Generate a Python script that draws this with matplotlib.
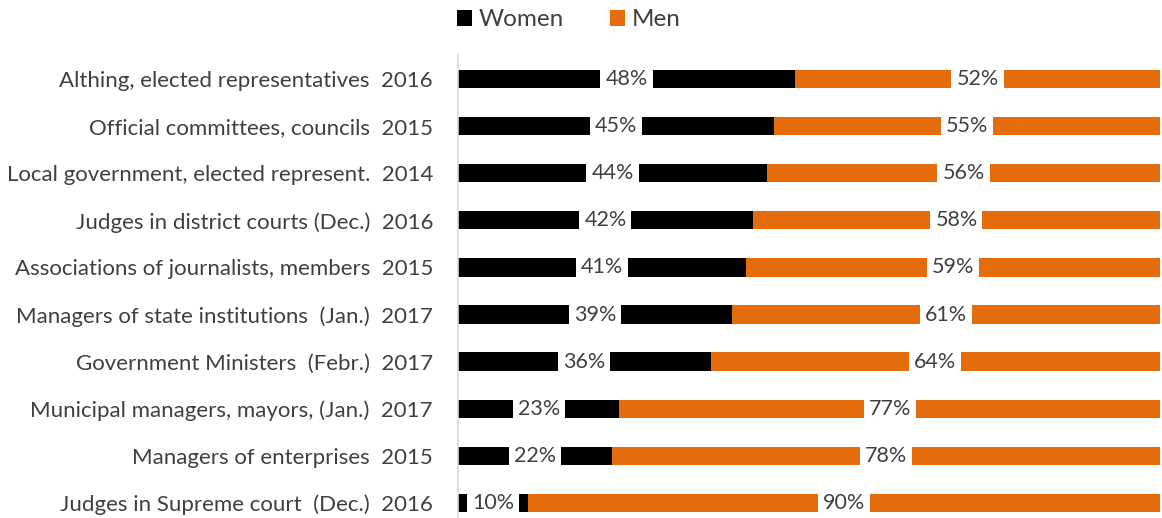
import matplotlib.pyplot as plt

plt.rcParams['font.family'] = ['Lato', 'DejaVu Sans']

categories = ["Althing, elected representatives  2016",
              "Official committees, councils  2015",
              "Local government, elected represent.  2014",
              "Judges in district courts (Dec.)  2016",
              "Associations of journalists, members  2015",
              "Managers of state institutions  (Jan.)  2017",
              "Government Ministers  (Febr.)  2017",
              "Municipal managers, mayors, (Jan.)  2017",
              "Managers of enterprises  2015",
              "Judges in Supreme court  (Dec.)  2016"]
women = [48, 45, 44, 42, 41, 39, 36, 23, 22, 10]
men = [52, 55, 56, 58, 59, 61, 64, 77, 78, 90]

black = '#000000'
orange = '#E46C0A'
txt = '#404040'

fig = plt.figure(figsize=(11.62, 5.18), dpi=100)
ax = fig.add_axes([458/1162, -0.0164, 702/1162, 0.893 + 0.0164])

y = list(range(len(categories)))
b1 = ax.barh(y, women, height=0.39, color=black, label='Women')
b2 = ax.barh(y, men, left=women, height=0.39, color=orange, label='Men')

for bars in (b1, b2):
    for r in bars:
        cx = r.get_x() + r.get_width() / 2
        cy = r.get_y() + r.get_height() / 2
        ax.text(cx, cy, f"{int(round(r.get_width()))}%", ha='center', va='center',
                fontsize=15.5, color=txt,
                bbox=dict(facecolor='white', edgecolor='none', pad=3.5))

ax.set_xlim(0, 100)
ax.set_ylim(len(categories) - 0.5, -0.5)
ax.set_yticks(y)
ax.set_yticklabels(categories, fontsize=16, color=txt)
ax.tick_params(axis='y', length=0, pad=18)
ax.set_xticks([])
for s in ['top', 'right', 'bottom']:
    ax.spines[s].set_visible(False)
ax.spines['left'].set_color('#D9D9D9')
ax.spines['left'].set_linewidth(1.2)

fig.legend(handles=[b1, b2], loc='center', bbox_to_anchor=(569/1162, 1 - 20/518),
           ncol=2, frameon=False, fontsize=17.5, handlelength=0.6, handleheight=0.6,
           handletextpad=0.3, columnspacing=1.9, labelcolor=txt)

fig.savefig('out.png', dpi=100)
